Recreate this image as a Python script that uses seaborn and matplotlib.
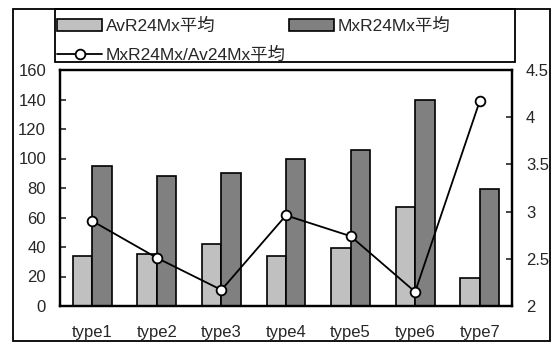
import matplotlib
matplotlib.use('Agg')
import matplotlib.pyplot as plt
import seaborn as sns
import pandas as pd
from matplotlib.patches import Rectangle, Patch
from matplotlib.lines import Line2D

categories = ['type1', 'type2', 'type3', 'type4', 'type5', 'type6', 'type7']
avr = [34, 35.5, 42, 34, 39.5, 67, 19]
mxr = [95, 88, 90, 100, 106, 140, 79]
ratio = [2.90, 2.51, 2.17, 2.96, 2.74, 2.15, 4.17]
series_names = ['AvR24Mx平均', 'MxR24Mx平均']
line_name = 'MxR24Mx/Av24Mx平均'
left_ticks = [0, 20, 40, 60, 80, 100, 120, 140, 160]
right_ticks = [2, 2.5, 3, 3.5, 4, 4.5]
right_labels = ['2', '2.5', '3', '3.5', '4', '4.5']

sns.set_style('white')
plt.rcParams['font.family'] = ['Liberation Sans', 'Noto Sans CJK JP', 'DejaVu Sans']
plt.rcParams['font.size'] = 12

W, H = 553, 343
fig = plt.figure(figsize=(W / 100, H / 100), dpi=100)

# outer chart border
fig.patches.append(Rectangle((13 / W, 1 - 341 / H), (550 - 13) / W, (341 - 9) / H,
                             transform=fig.transFigure, fill=False, edgecolor='black',
                             linewidth=1.3, zorder=3))
# legend border
fig.patches.append(Rectangle((55 / W, 1 - 62 / H), (515 - 55) / W, (62 - 9) / H,
                             transform=fig.transFigure, fill=False, edgecolor='black',
                             linewidth=1.3, zorder=3))

ax = fig.add_axes([60 / W, 1 - 306 / H, (512 - 60) / W, (306 - 70) / H])
df = pd.DataFrame({
    'cat': categories * 2,
    'series': [series_names[0]] * len(categories) + [series_names[1]] * len(categories),
    'value': avr + mxr,
})
sns.barplot(data=df, x='cat', y='value', hue='series', palette=['#C0C0C0', '#808080'],
            saturation=1, width=0.6, edgecolor='black', linewidth=1.2, ax=ax, legend=False)

ax2 = ax.twinx()
sns.pointplot(x=categories, y=ratio, ax=ax2, color='black', markers='o',
              markersize=7, markerfacecolor='white', markeredgecolor='black',
              markeredgewidth=1.3, linewidth=1.3)

ax.set_xlim(-0.5, len(categories) - 0.5)
ax2.set_xlim(-0.5, len(categories) - 0.5)
ax.set_ylim(0, 160)
ax2.set_ylim(2, 4.5)
ax.set_yticks(left_ticks)
ax.set_yticklabels([str(t) for t in left_ticks])
ax2.set_yticks(right_ticks)
ax2.set_yticklabels(right_labels)
ax.set_xlabel('')
ax.set_ylabel('')
ax2.set_ylabel('')
ax2.set_xlabel('')

ax.set_xticks(range(len(categories)))
ax.set_xticklabels(categories)
ax.tick_params(axis='x', which='major', length=0, pad=14, labelsize=12)
ax.set_xticks([i + 0.5 for i in range(len(categories) - 1)], minor=True)
ax.tick_params(axis='x', which='minor', direction='in', length=4, width=1.2, color='black')
ax.tick_params(axis='y', direction='in', length=4, width=1.2, pad=10, labelsize=12, left=True)
ax2.tick_params(axis='y', direction='in', length=4, width=1.2, pad=10, labelsize=12, right=True)

for a in (ax, ax2):
    for s in a.spines.values():
        s.set_visible(True)
        s.set_color('black')
        s.set_linewidth(1.6)

handles = [
    Patch(facecolor='#C0C0C0', edgecolor='black', linewidth=1.2, label=series_names[0]),
    Line2D([], [], color='black', linewidth=1.3, marker='o', markersize=7,
           markerfacecolor='white', markeredgecolor='black', markeredgewidth=1.3, label=line_name),
    Patch(facecolor='#808080', edgecolor='black', linewidth=1.2, label=series_names[1]),
]
fig.legend(handles=handles, ncol=2, loc='upper left', bbox_to_anchor=(57 / W, 1 - 18 / H),
           frameon=False, borderpad=0, borderaxespad=0, handlelength=2.6, handletextpad=0.2,
           columnspacing=0.2, labelspacing=0.75, fontsize=12.5)

fig.savefig('out.png', dpi=100)
